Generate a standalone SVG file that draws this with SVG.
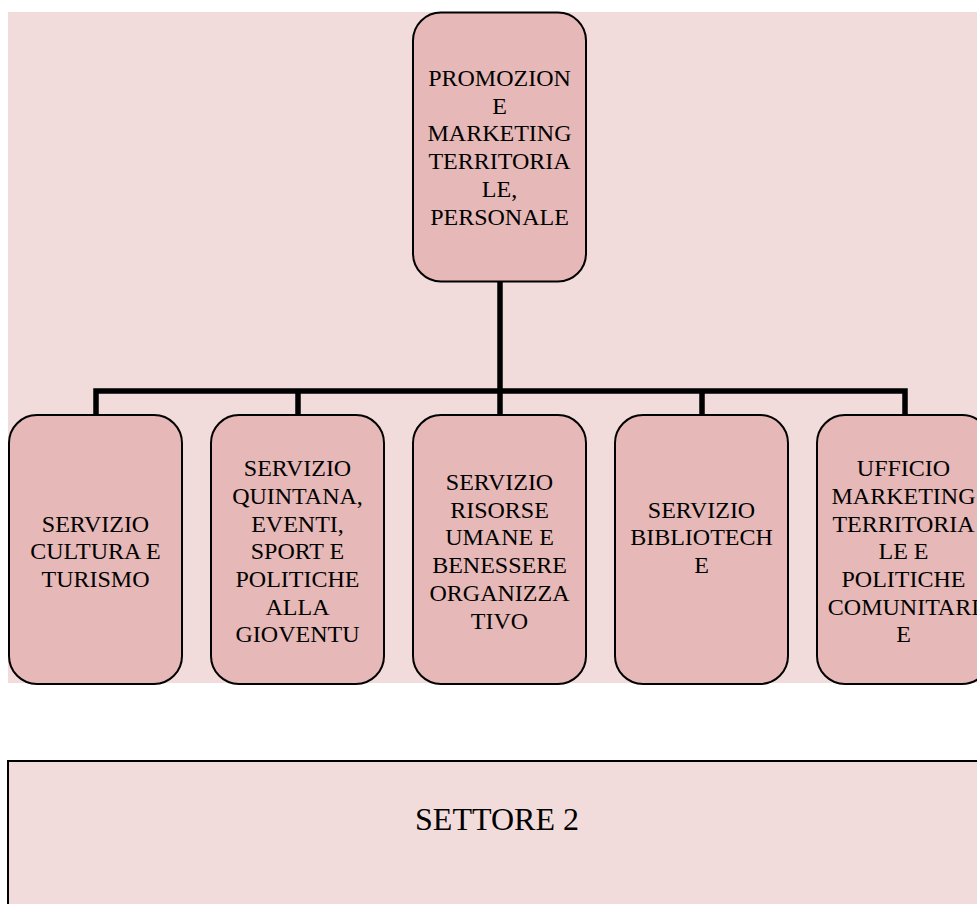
<svg xmlns="http://www.w3.org/2000/svg" width="977" height="904" viewBox="0 0 977 904">
  <style>
    .node { fill: #E6B8B7; stroke: #000; stroke-width: 2; }
    .lbl { font-family: "Liberation Serif", "Times New Roman", serif; font-size: 24px; fill: #000; text-anchor: middle; }
    .conn { fill: none; stroke: #000; stroke-width: 5.5; stroke-linejoin: miter; }
    .big { font-family: "Liberation Serif", "Times New Roman", serif; font-size: 32px; fill: #000; text-anchor: middle; }
  </style>
  <rect x="0" y="0" width="977" height="904" fill="#FFFFFF"/>
  <rect id="background" x="8" y="12" width="969" height="671" fill="#F2DCDB"/>

  <g id="connectors">
    <path class="conn" d="M500,281 V391"/>
    <path class="conn" d="M96,415 V391 H905 V415"/>
    <path class="conn" d="M298,391 V415"/>
    <path class="conn" d="M500,391 V415"/>
    <path class="conn" d="M702,391 V415"/>
  </g>

  <g id="node-top">
    <rect class="node" x="413" y="12.5" width="173" height="269" rx="28" ry="28"/>
    <text class="lbl" x="499.5" y="86">PROMOZION<tspan x="499.5" dy="27.7">E</tspan><tspan x="499.5" dy="27.7">MARKETING</tspan><tspan x="499.5" dy="27.7">TERRITORIA</tspan><tspan x="499.5" dy="27.7">LE,</tspan><tspan x="499.5" dy="27.7">PERSONALE</tspan></text>
  </g>

  <g id="node-cultura">
    <rect class="node" x="9" y="415" width="173" height="269" rx="28" ry="28"/>
    <text class="lbl" x="95.5" y="531.5">SERVIZIO<tspan x="95.5" dy="27.7">CULTURA E</tspan><tspan x="95.5" dy="27.7">TURISMO</tspan></text>
  </g>

  <g id="node-quintana">
    <rect class="node" x="211" y="415" width="173" height="269" rx="28" ry="28"/>
    <text class="lbl" x="297.5" y="476.2">SERVIZIO<tspan x="297.5" dy="27.7">QUINTANA,</tspan><tspan x="297.5" dy="27.7">EVENTI,</tspan><tspan x="297.5" dy="27.7">SPORT E</tspan><tspan x="297.5" dy="27.7">POLITICHE</tspan><tspan x="297.5" dy="27.7">ALLA</tspan><tspan x="297.5" dy="27.7">GIOVENTU</tspan></text>
  </g>

  <g id="node-risorse">
    <rect class="node" x="413" y="415" width="173" height="269" rx="28" ry="28"/>
    <text class="lbl" x="499.5" y="490">SERVIZIO<tspan x="499.5" dy="27.7">RISORSE</tspan><tspan x="499.5" dy="27.7">UMANE E</tspan><tspan x="499.5" dy="27.7">BENESSERE</tspan><tspan x="499.5" dy="27.7">ORGANIZZA</tspan><tspan x="499.5" dy="27.7">TIVO</tspan></text>
  </g>

  <g id="node-biblioteche">
    <rect class="node" x="615" y="415" width="173" height="269" rx="28" ry="28"/>
    <text class="lbl" x="701.5" y="517.5">SERVIZIO<tspan x="701.5" dy="27.7">BIBLIOTECH</tspan><tspan x="701.5" dy="27.7">E</tspan></text>
  </g>

  <g id="node-marketing">
    <rect class="node" x="817" y="415" width="173" height="269" rx="28" ry="28"/>
    <text class="lbl" x="903.5" y="476.2">UFFICIO<tspan x="903.5" dy="27.7">MARKETING</tspan><tspan x="903.5" dy="27.7">TERRITORIA</tspan><tspan x="903.5" dy="27.7">LE E</tspan><tspan x="903.5" dy="27.7">POLITICHE</tspan><tspan x="903.5" dy="27.7">COMUNITARI</tspan><tspan x="903.5" dy="27.7">E</tspan></text>
  </g>

  <g id="settore-2">
    <rect x="8" y="761" width="985" height="160" fill="#F2DCDB" stroke="#000" stroke-width="2"/>
    <text class="big" x="497" y="830">SETTORE 2</text>
  </g>
</svg>
